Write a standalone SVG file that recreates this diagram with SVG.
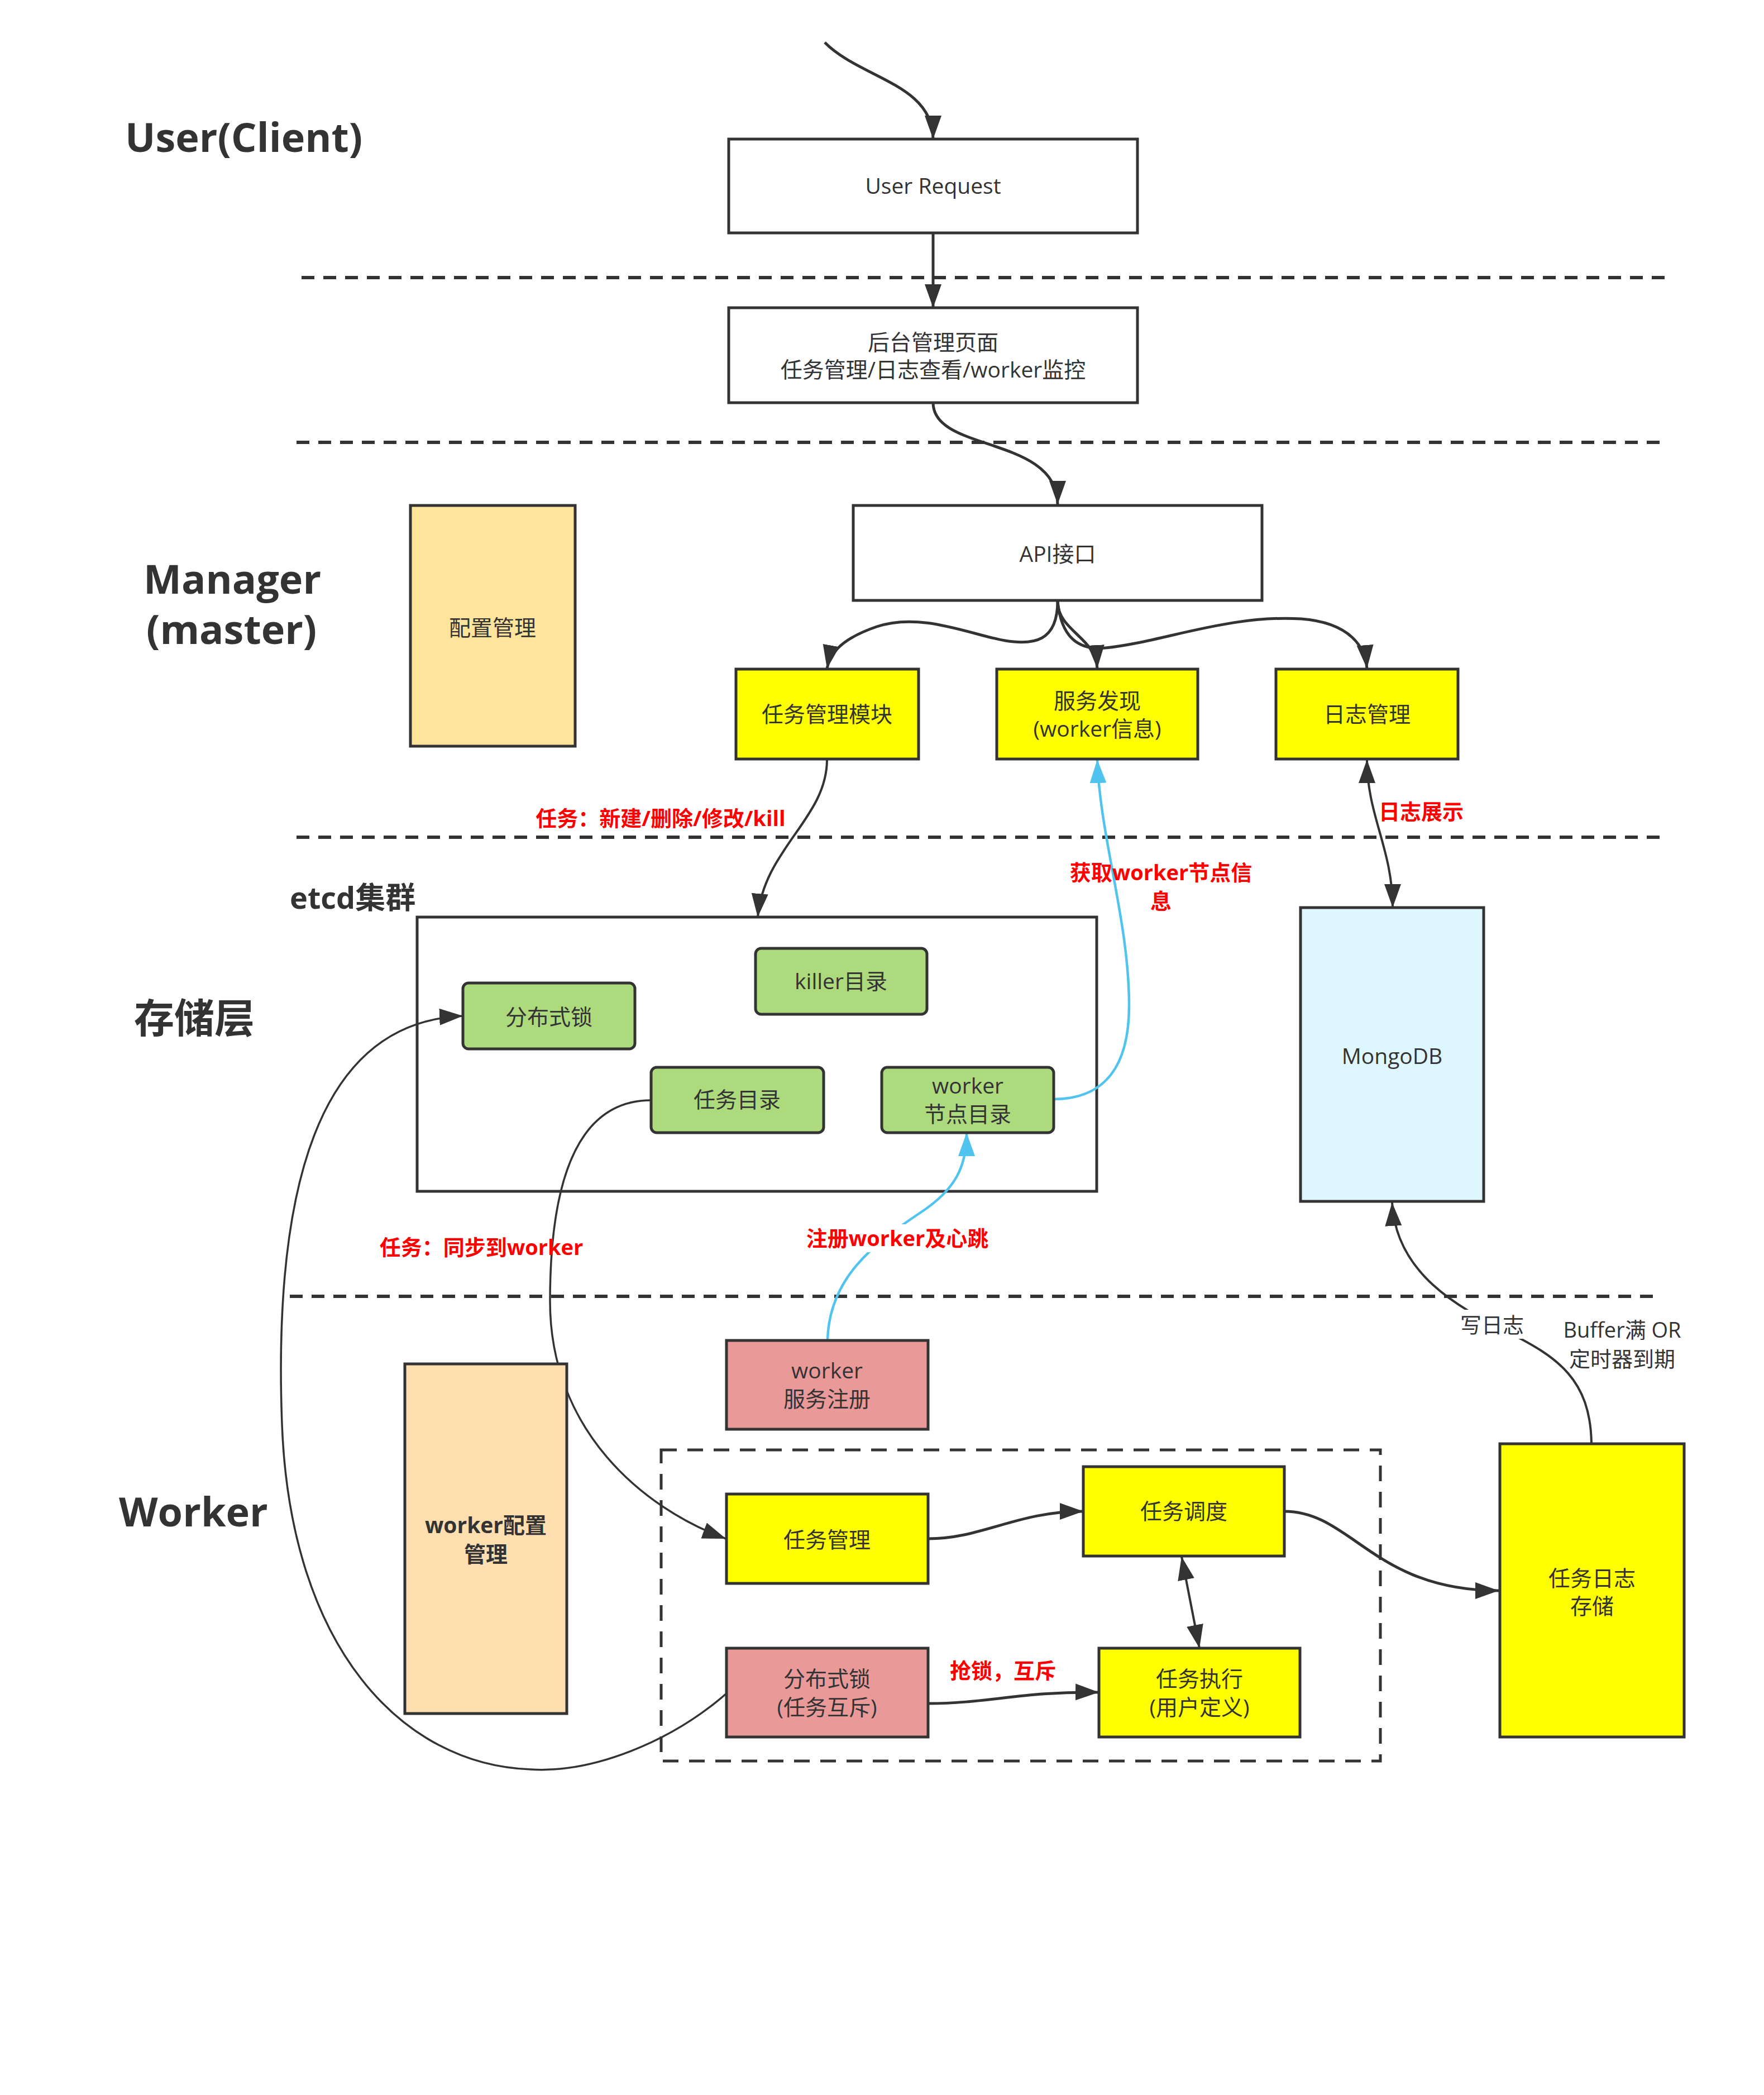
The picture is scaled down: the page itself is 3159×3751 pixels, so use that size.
<svg xmlns="http://www.w3.org/2000/svg" width="3159" height="3751" viewBox="0 0 3159 3751">
<style>
.t{font-family:"Open Sans","Noto Sans CJK SC",sans-serif;font-size:39px;fill:#333;text-anchor:middle}
.b{font-weight:bold}
.title{font-family:"Open Sans","Noto Sans CJK SC",sans-serif;font-size:72px;font-weight:bold;fill:#333}
.red{font-family:"Open Sans","Noto Sans CJK SC",sans-serif;font-size:38px;font-weight:bold;fill:#FF0000;text-anchor:middle}
.box{stroke:#333;stroke-width:5}
.layer{stroke:#333;stroke-width:6;stroke-dasharray:23 16;fill:none}
.c{fill:none;stroke:#333;stroke-width:5}
.thin{fill:none;stroke:#333;stroke-width:3.5}
.blue{fill:none;stroke:#50C4EE;stroke-width:4.5}
</style>
<defs>
<marker id="arr" markerUnits="userSpaceOnUse" markerWidth="44" markerHeight="32" viewBox="0 0 44 32" refX="42" refY="15" orient="auto-start-reverse"><path d="M0,0 L42,15 L0,30 z" fill="#333"/></marker>
<marker id="arrb" markerUnits="userSpaceOnUse" markerWidth="44" markerHeight="32" viewBox="0 0 44 32" refX="42" refY="15" orient="auto-start-reverse"><path d="M0,0 L42,15 L0,30 z" fill="#50C4EE"/></marker>
</defs>
<rect width="3159" height="3751" fill="#fff"/>

<g id="layers">
<line class="layer" x1="540" y1="497" x2="2984" y2="497"/>
<line class="layer" x1="531" y1="792" x2="2977" y2="792"/>
<line class="layer" x1="531" y1="1499" x2="2977" y2="1499"/>
<line class="layer" x1="519" y1="2321" x2="2962" y2="2321"/>
</g>

<g id="titles">
<text class="title" x="224" y="272">User(Client)</text>
<text class="title" x="257" y="1063">Manager</text>
<text class="title" x="262" y="1153">(master)</text>
<text class="title" x="240" y="1849">存储层</text>
<text class="title" x="519" y="1627" style="font-size:54px">etcd集群</text>
<text class="title" x="213" y="2733">Worker</text>
</g>

<g id="etcd-cluster">
<rect class="box" x="747" y="1642" width="1217" height="491" fill="#fff"/>
</g>
<g id="worker-container">
<rect x="1184" y="2596" width="1288" height="557" fill="none" stroke="#333" stroke-width="5" stroke-dasharray="28 19"/>
</g>

<g id="connectors">
<path class="c" d="M1477,76 C1540,140 1671,150 1671,249" marker-end="url(#arr)"/>
<path class="c" d="M1671,417 L1671,551" marker-end="url(#arr)"/>
<path class="c" d="M1671,721 C1671,810 1894,780 1894,903" marker-end="url(#arr)"/>
<path class="c" d="M1894,1076 C1894,1150 1850,1155 1800,1147 C1740,1137 1650,1095 1570,1122 C1500,1146 1485,1175 1481,1197" marker-end="url(#arr)"/>
<path class="c" d="M1894,1076 C1894,1130 1962,1140 1965,1197" marker-end="url(#arr)"/>
<path class="c" d="M1894,1076 C1900,1140 1930,1165 1980,1160 C2080,1150 2200,1100 2330,1108 C2420,1115 2445,1160 2448,1197" marker-end="url(#arr)"/>
<path class="c" style="stroke-width:4" d="M1481,1360 C1481,1465 1368,1520 1357,1642" marker-end="url(#arr)"/>
<path class="c" style="stroke-width:4" d="M2448,1360 C2448,1460 2494,1520 2494,1625" marker-start="url(#arr)" marker-end="url(#arr)"/>
<path class="blue" d="M1887,1968 C1960,1968 2022,1930 2022,1800 C2022,1650 1970,1500 1965,1360" marker-end="url(#arrb)"/>
<path class="blue" d="M1482,2399 C1485,2290 1560,2230 1650,2170 C1710,2130 1731,2090 1731,2028" marker-end="url(#arrb)"/>
<path class="thin" d="M1166,1970 C1040,1970 985,2100 985,2330 C985,2560 1150,2700 1300,2755" marker-end="url(#arr)"/>
<path class="thin" d="M1301,3032 C1200,3120 1060,3175 950,3168 C720,3160 520,2950 505,2550 C490,2150 560,1830 829,1819" marker-end="url(#arr)"/>
<path class="c" d="M1662,2755 C1760,2755 1820,2706 1940,2706" marker-end="url(#arr)"/>
<path class="c" d="M2300,2706 C2420,2706 2460,2848 2684,2848" marker-end="url(#arr)"/>
<path class="c" style="stroke-width:4" d="M2116,2787 L2148,2951" marker-start="url(#arr)" marker-end="url(#arr)"/>
<path class="c" d="M1662,3050 C1770,3050 1830,3028 1968,3030" marker-end="url(#arr)"/>
<path class="c" style="stroke-width:4" d="M2850,2584 C2848,2470 2790,2430 2700,2385 C2610,2340 2500,2280 2493,2153" marker-end="url(#arr)"/>
</g>

<g id="n-user-request">
<rect class="box" x="1305" y="249" width="732" height="168" fill="#fff"/>
<text class="t" x="1671" y="347">User Request</text>
</g>
<g id="n-admin-page">
<rect class="box" x="1305" y="551" width="732" height="170" fill="#fff"/>
<text class="t" x="1671" y="627">后台管理页面</text>
<text class="t" x="1671" y="676">任务管理/日志查看/worker监控</text>
</g>
<g id="n-api">
<rect class="box" x="1528" y="905" width="732" height="170" fill="#fff"/>
<text class="t" x="1894" y="1006">API接口</text>
</g>
<g id="n-config">
<rect class="box" x="735" y="905" width="295" height="431" fill="#FFE49B"/>
<text class="t" x="882" y="1138">配置管理</text>
</g>
<g id="n-task-module">
<rect class="box" x="1318" y="1198" width="327" height="161" fill="#FFFF00"/>
<text class="t" x="1481" y="1293">任务管理模块</text>
</g>
<g id="n-discovery">
<rect class="box" x="1785" y="1198" width="360" height="161" fill="#FFFF00"/>
<text class="t" x="1965" y="1269">服务发现</text>
<text class="t" x="1965" y="1319">(worker信息)</text>
</g>
<g id="n-log-mgmt">
<rect class="box" x="2285" y="1198" width="326" height="161" fill="#FFFF00"/>
<text class="t" x="2448" y="1293">日志管理</text>
</g>

<g id="n-etcd-lock">
<rect class="box" x="829" y="1760" width="308" height="118" rx="10" fill="#AEDA7E"/>
<text class="t" x="983" y="1835">分布式锁</text>
</g>
<g id="n-killer">
<rect class="box" x="1353" y="1698" width="307" height="118" rx="10" fill="#AEDA7E"/>
<text class="t" x="1506" y="1771">killer目录</text>
</g>
<g id="n-task-dir">
<rect class="box" x="1166" y="1911" width="309" height="117" rx="10" fill="#AEDA7E"/>
<text class="t" x="1320" y="1983">任务目录</text>
</g>
<g id="n-worker-dir">
<rect class="box" x="1579" y="1911" width="308" height="117" rx="10" fill="#AEDA7E"/>
<text class="t" x="1733" y="1958">worker</text>
<text class="t" x="1733" y="2009">节点目录</text>
</g>
<g id="n-mongodb">
<rect class="box" x="2329" y="1625" width="328" height="526" fill="#DEF6FE"/>
<text class="t" x="2493" y="1905">MongoDB</text>
</g>

<g id="n-worker-reg">
<rect class="box" x="1301" y="2400" width="361" height="159" fill="#EA9999"/>
<text class="t" x="1481" y="2468">worker</text>
<text class="t" x="1481" y="2519">服务注册</text>
</g>
<g id="n-worker-config">
<rect class="box" x="725" y="2442" width="290" height="626" fill="#FFDFB0"/>
<text class="t b" x="870" y="2745">worker配置</text>
<text class="t b" x="870" y="2797">管理</text>
</g>
<g id="n-task-mgmt">
<rect class="box" x="1301" y="2675" width="361" height="160" fill="#FFFF00"/>
<text class="t" x="1481" y="2771">任务管理</text>
</g>
<g id="n-scheduler">
<rect class="box" x="1940" y="2626" width="360" height="160" fill="#FFFF00"/>
<text class="t" x="2120" y="2720">任务调度</text>
</g>
<g id="n-worker-lock">
<rect class="box" x="1301" y="2951" width="361" height="159" fill="#EA9999"/>
<text class="t" x="1481" y="3020">分布式锁</text>
<text class="t" x="1481" y="3071">(任务互斥)</text>
</g>
<g id="n-executor">
<rect class="box" x="1968" y="2951" width="360" height="159" fill="#FFFF00"/>
<text class="t" x="2148" y="3020">任务执行</text>
<text class="t" x="2148" y="3071">(用户定义)</text>
</g>
<g id="n-log-store">
<rect class="box" x="2686" y="2585" width="330" height="525" fill="#FFFF00"/>
<text class="t" x="2851" y="2840">任务日志</text>
<text class="t" x="2851" y="2890">存储</text>
</g>

<g id="labels">
<text class="red" x="1183" y="1479">任务：新建/删除/修改/kill</text>
<text class="red" x="2079" y="1576">获取worker节点信</text>
<text class="red" x="2079" y="1627">息</text>
<text class="red" x="2545" y="1467">日志展示</text>
<text class="red" x="862" y="2247">任务：同步到worker</text>
<rect x="1440" y="2192" width="334" height="50" fill="#fff"/>
<text class="red" x="1607" y="2231">注册worker及心跳</text>
<text class="red" x="1796" y="3005">抢锁，互斥</text>
<rect x="2610" y="2345" width="125" height="52" fill="#fff"/>
<text class="t" x="2672" y="2386" style="font-size:38px">写日志</text>
<text class="t" x="2905" y="2395" style="font-size:38px">Buffer满 OR</text>
<text class="t" x="2905" y="2447" style="font-size:38px">定时器到期</text>
</g>
</svg>
